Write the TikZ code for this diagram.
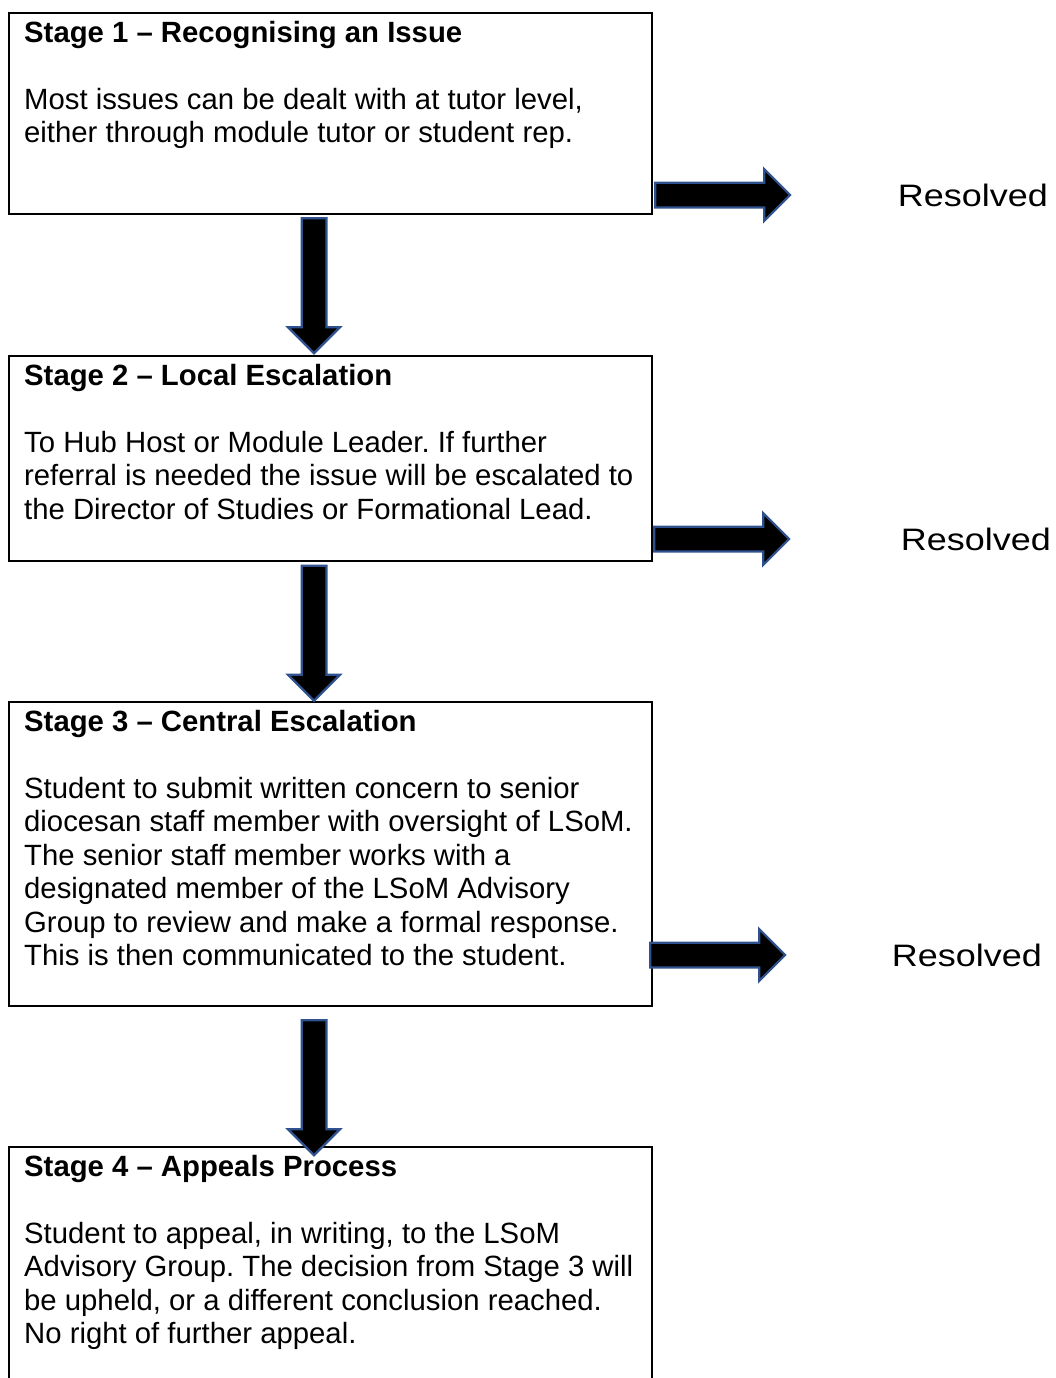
\documentclass[tikz,border=0pt]{standalone}
\usepackage{fontspec}
\setmainfont{Liberation Sans}
\usetikzlibrary{positioning,calc,shapes.arrows}
\definecolor{arrowblue}{RGB}{47,82,143}
\frenchspacing

\tikzset{
	stagebox/.style={draw, line width=1.5pt, minimum width=643pt, inner sep=0pt, outer sep=0pt},
	stagetext/.style={inner sep=0pt, align=left, anchor=north west, font=\fontsize{29.3}{33.5}\selectfont},
	blockarrow/.style={single arrow, draw=arrowblue, fill=black, line width=2.25pt, inner sep=11.25pt,
		single arrow head extend=13.5pt, minimum height=135pt},
	downarrow/.style={blockarrow, shape border rotate=270},
	resolved/.style={inner sep=0pt, font=\fontsize{31}{37}\selectfont}
}

\begin{document}
\begin{tikzpicture}[x=1pt,y=1pt]
	\clip (0,0) rectangle (1056,-1378);
	% stage boxes
	\node (s1) [stagebox, anchor=north west, minimum height=201pt] at (9,-13) {};
	\node (s2) [stagebox, minimum height=205pt, below=142pt of s1] {};
	\node (s3) [stagebox, minimum height=304pt, below=141pt of s2] {};
	\node (s4) [stagebox, minimum height=260pt, below=141pt of s3] {};
	% box texts
	\node (t1) [stagetext, below right=7.8pt and 15pt of s1.north west]
		{\textbf{Stage 1 – Recognising an Issue}\\[33.5pt]
		 Most issues can be dealt with at tutor level,\\
		 either through module tutor or student rep.};
	\node (t2) [stagetext, below right=7.8pt and 15pt of s2.north west]
		{\textbf{Stage 2 – Local Escalation}\\[33.5pt]
		 To Hub Host or Module Leader. If further\\
		 referral is needed the issue will be escalated to\\
		 the Director of Studies or Formational Lead.};
	\node (t3) [stagetext, below right=7.8pt and 15pt of s3.north west]
		{\textbf{Stage 3 – Central Escalation}\\[33.5pt]
		 Student to submit written concern to senior\\
		 diocesan staff member with oversight of LSoM.\\
		 The senior staff member works with a\\
		 designated member of the LSoM Advisory\\
		 Group to review and make a formal response.\\
		 This is then communicated to the student.};
	\node (t4) [stagetext, below right=7.8pt and 15pt of s4.north west]
		{\textbf{Stage 4 – Appeals Process}\\[33.5pt]
		 Student to appeal, in writing, to the LSoM\\
		 Advisory Group. The decision from Stage 3 will\\
		 be upheld, or a different conclusion reached.\\
		 No right of further appeal.};
	% escalation arrows
	\node (d1) [downarrow] at ($(s1.south)!.5!(s2.north)+(-16.5,5.5)$) {};
	\node (d2) [downarrow] at ($(s2.south)!.5!(s3.north)+(-16.5,4.5)$) {};
	\node (d3) [downarrow] at ($(s3.south)!.5!(s4.north)+(-16.5,-5)$) {};
	% resolved arrows
	\node (r1) [blockarrow, anchor=tail] at ($(s1.south east)+(2,19)$) {};
	\node (r2) [blockarrow, anchor=tail] at ($(s2.south east)+(1,22)$) {};
	\node (r3) [blockarrow, anchor=tail] at ($(s3.south east)+(-3,51)$) {};
	\node (o1) [resolved, right=106pt of r1.tip] {\scalebox{1.16}[1]{Resolved}};
	\node (o2) [resolved, right=110pt of r2.tip] {\scalebox{1.16}[1]{Resolved}};
	\node (o3) [resolved, right=105pt of r3.tip] {\scalebox{1.16}[1]{Resolved}};
\end{tikzpicture}
\end{document}
